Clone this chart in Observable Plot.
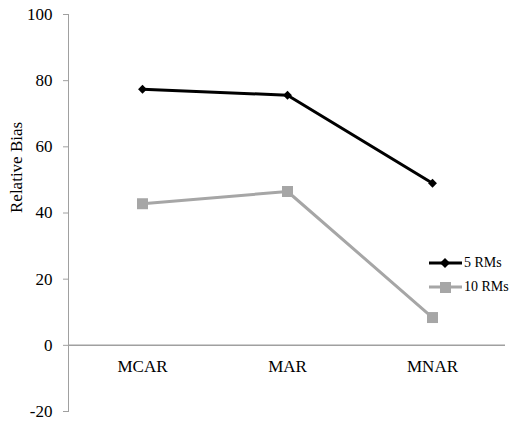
<!DOCTYPE html>
<html>
<head>
<meta charset="utf-8">
<script src="https://cdn.jsdelivr.net/npm/d3@7"></script>
<script src="https://cdn.jsdelivr.net/npm/@observablehq/plot@0.6"></script>
<style>
  html, body { margin: 0; padding: 0; background: #fff; }
  #wrap { position: relative; width: 513px; height: 422px; }
  #wrap svg text { font-family: "Liberation Serif", "Times New Roman", Times, serif !important; }
  #legend { position: absolute; left: 429px; top: 251px; font-family: "Liberation Serif", "Times New Roman", Times, serif; font-size: 14px; color: #000; }
  #legend div { display: flex; align-items: center; height: 24px; }
  #legend svg { margin-right: 2px; }
</style>
</head>
<body>
<div id="wrap"></div>
<script>
const categories = ["MCAR", "MAR", "MNAR"];
const series = ["5 RMs", "10 RMs"];
const values5 = [77.4, 75.6, 49.0];
const values10 = [42.8, 46.5, 8.4];
const yTicks = [-20, 0, 20, 40, 60, 80, 100];
const colors = ["#000000", "#a6a6a6"];

const data = [];
categories.forEach((c, i) => {
  data.push({cat: c, series: series[0], value: values5[i]});
  data.push({cat: c, series: series[1], value: values10[i]});
});
const d5 = data.filter(d => d.series === series[0]);
const d10 = data.filter(d => d.series === series[1]);
const font = "Liberation Serif, Times New Roman, serif";

const chart = Plot.plot({
  width: 513,
  height: 422,
  marginLeft: 68,
  marginRight: 8,
  marginTop: 14,
  marginBottom: 11,
  style: {fontFamily: font, background: "#fff"},
  x: {type: "point", domain: categories, padding: 0.5, axis: null},
  y: {domain: [-20, 100], axis: null},
  marks: [
    Plot.frame({anchor: "left", stroke: "#a0a0a0", strokeWidth: 1}),
    Plot.ruleY([0], {stroke: "#a0a0a0", strokeWidth: 1.5}),
    Plot.axisY({
      ticks: yTicks, tickSize: 5, tickPadding: 11, stroke: "#a0a0a0",
      fill: "#000", fontSize: 17, tickFormat: d => String(d),
      label: null
    }),
    Plot.text(["Relative Bias"], {frameAnchor: "left", text: d => d, rotate: -90, dx: -52, fontSize: 17, fill: "#000"}),
    Plot.text(categories, {x: d => d, y: () => 0, dy: 21, text: d => d, fontSize: 17, fill: "#000"}),
    Plot.line(d10, {x: "cat", y: "value", stroke: colors[1], strokeWidth: 3}),
    Plot.dot(d10, {x: "cat", y: "value", symbol: "square", r: 6.2, fill: colors[1], stroke: "none"}),
    Plot.line(d5, {x: "cat", y: "value", stroke: colors[0], strokeWidth: 3}),
    Plot.dot(d5, {x: "cat", y: "value", symbol: "diamond2", r: 4, fill: colors[0], stroke: "none"})
  ]
});
document.getElementById("wrap").appendChild(chart);

// legend
const legend = document.createElement("div");
legend.id = "legend";
series.forEach((s, i) => {
  const row = document.createElement("div");
  const sym = i === 0
    ? `<polygon points="16,2 21,7 16,12 11,7" fill="${colors[0]}"/>`
    : `<rect x="11" y="2" width="11" height="11" fill="${colors[1]}"/>`;
  row.innerHTML = `<svg width="33" height="14"><line x1="0" x2="33" y1="7" y2="7" stroke="${colors[i]}" stroke-width="3"/>${sym}</svg><span>${s}</span>`;
  legend.appendChild(row);
});
document.getElementById("wrap").appendChild(legend);
</script>
</body>
</html>
